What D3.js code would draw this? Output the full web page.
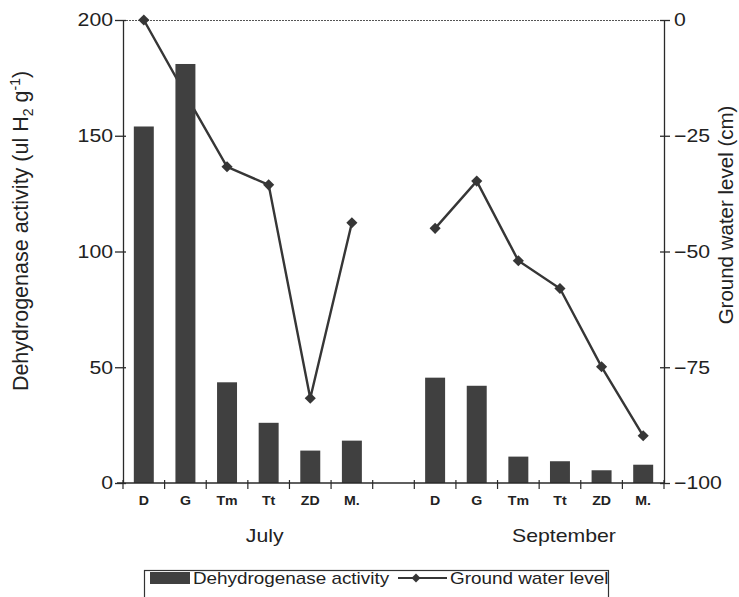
<!DOCTYPE html>
<html>
<head>
<meta charset="utf-8">
<script src="https://cdn.jsdelivr.net/npm/d3@7"></script>
<style>
  body { margin: 0; background: #fff; }
  text { font-family: "Liberation Sans", Arial, sans-serif; fill: #222; }
</style>
</head>
<body>
<div id="chart"></div>
<script>
'use strict';

// data
var sites = ['D', 'G', 'Tm', 'Tt', 'ZD', 'M.'];
var months = ['July', 'September'];
var julyActivity = [154, 181, 43.5, 26, 14, 18.3];
var septActivity = [45.5, 42, 11.4, 9.4, 5.5, 7.9];
var julyWater = [0, -16, -31.7, -35.6, -81.7, -43.8];
var septWater = [-45, -34.8, -52, -58, -74.9, -89.8];
var leftTicks = [0, 50, 100, 150, 200];
var rightTicks = [0, -25, -50, -75, -100];
var seriesNames = ['Dehydrogenase activity', 'Ground water level'];

var W = 739, H = 597;
var margins = {top: 20, bottom: 114, left: 123, right: 75};
var cw = W - margins.left - margins.right;
var ch = H - margins.top - margins.bottom;

var barColor = '#404040';
var lineColor = '#363636';
var axisColor = '#2a2a2a';
var stretchX = 1.18;   // scanned figure text is a bit wide

// 13 slots: 6 July sites, an empty gap, 6 September sites
var slots = [];
sites.forEach(function(s){ slots.push(months[0] + '|' + s); });
slots.push('gap');
sites.forEach(function(s){ slots.push(months[1] + '|' + s); });

var groups = [
    {month: months[0], activity: julyActivity, water: julyWater, shift: -4},
    {month: months[1], activity: septActivity, water: septWater, shift: 4}
];

// widen a text in place: move its x/y into a transform and scale x
function stretch(sel)
{
    sel.each(function(){
        var t = d3.select(this);
        var x = +t.attr('x') || 0, y = +t.attr('y') || 0;
        t.attr('x', 0).attr('y', 0)
            .attr('transform', 'translate(' + x + ',' + y + ') scale(' + stretchX + ',1)');
    });
}

var svg = d3.select('#chart').append('svg')
    .attr('width', W)
    .attr('height', H);

var chart = svg.append('g')
    .attr('transform', 'translate(' + margins.left + ',' + margins.top + ')');

var xScale = d3.scaleBand().domain(slots).range([0, cw])
    .paddingInner(0.52).paddingOuter(0.26);
var yLeft = d3.scaleLinear().domain([0, 200]).range([ch, 0]);
var yRight = d3.scaleLinear().domain([-100, 0]).range([ch, 0]);

function boundary(key)
{
    return xScale(key) - xScale.step() * xScale.paddingInner() / 2;
}

// dotted top frame
chart.append('line')
    .attr('x1', 0).attr('x2', cw)
    .attr('y1', 0.5).attr('y2', 0.5)
    .attr('stroke', '#555')
    .attr('stroke-dasharray', '2,1');

// ground water line (drawn under the bars)
var line = d3.line()
    .x(function(d){ return xScale(d.key) + xScale.bandwidth() / 2; })
    .y(function(d){ return yRight(d.v); });

var marker = d3.symbol(d3.symbolSquare, 62);

groups.forEach(function(g){
    var pts = sites.map(function(s, i){ return {key: g.month + '|' + s, v: g.water[i]}; });
    chart.append('path')
        .datum(pts)
        .attr('d', line)
        .attr('fill', 'none')
        .attr('stroke', lineColor)
        .attr('stroke-width', 2.4);
    chart.selectAll(null)
        .data(pts)
        .enter()
        .append('path')
        .attr('d', marker)
        .attr('transform', function(d){
            return 'translate(' + (xScale(d.key) + xScale.bandwidth() / 2) + ',' + yRight(d.v) + ') rotate(45)';
        })
        .attr('fill', lineColor);
});

// bars
groups.forEach(function(g){
    chart.selectAll(null)
        .data(sites.map(function(s, i){ return {key: g.month + '|' + s, v: g.activity[i]}; }))
        .enter()
        .append('rect')
        .attr('x', function(d){ return xScale(d.key); })
        .attr('y', function(d){ return yLeft(d.v); })
        .attr('width', xScale.bandwidth())
        .attr('height', function(d){ return ch - yLeft(d.v); })
        .attr('fill', barColor);
});

// left axis
var yAxisL = chart.append('g')
    .call(d3.axisLeft(yLeft).tickValues(leftTicks).tickSizeInner(8).tickSizeOuter(0).tickPadding(2));
yAxisL.selectAll('.tick line').attr('x1', 3);

// right axis
var yAxisR = chart.append('g')
    .attr('transform', 'translate(' + cw + ',0)')
    .call(d3.axisRight(yRight).tickValues(rightTicks).tickSizeInner(6).tickSizeOuter(0).tickPadding(4));
yAxisR.selectAll('.tick line').attr('x1', -4);

[yAxisL, yAxisR].forEach(function(a){
    a.selectAll('path, line').attr('stroke', axisColor).attr('stroke-width', 1.3);
    a.selectAll('.tick text').attr('fill', '#222').style('font-size', '18px').call(stretch);
});

// bottom axis: line plus ticks at slot boundaries
var xAxis = chart.append('g').attr('transform', 'translate(0,' + ch + ')');
xAxis.append('line')
    .attr('x1', -6).attr('x2', cw)
    .attr('stroke', axisColor).attr('stroke-width', 1.3);
var bounds = slots.map(boundary).concat([cw]);
xAxis.selectAll('.xt')
    .data(bounds)
    .enter()
    .append('line')
    .attr('x1', function(d){ return d; }).attr('x2', function(d){ return d; })
    .attr('y1', -3).attr('y2', 6)
    .attr('stroke', axisColor).attr('stroke-width', 1.2);

groups.forEach(function(g){
    xAxis.selectAll(null)
        .data(sites)
        .enter()
        .append('text')
        .attr('x', function(s){ return xScale(g.month + '|' + s) + xScale.bandwidth() / 2; })
        .attr('y', 22)
        .attr('text-anchor', 'middle')
        .style('font-size', '12px')
        .style('font-weight', 'bold')
        .text(function(s){ return s; })
        .call(stretch);
    var mid = g.month + '|' + sites[3];
    xAxis.append('text')
        .attr('x', xScale(mid) + xScale.bandwidth() / 2 + g.shift)
        .attr('y', 59)
        .attr('text-anchor', 'middle')
        .style('font-size', '18px')
        .text(g.month)
        .call(stretch);
});

// axis titles
var lt = svg.append('text')
    .attr('transform', 'translate(28,' + (margins.top + 211) + ') rotate(-90)')
    .attr('text-anchor', 'middle')
    .style('font-size', '21.5px');
lt.append('tspan').text('Dehydrogenase activity  (ul H');
lt.append('tspan').attr('dy', 5).style('font-size', '14px').text('2');
lt.append('tspan').attr('dy', -5).text(' g');
lt.append('tspan').attr('dy', -8).style('font-size', '14px').text('-1');
lt.append('tspan').attr('dy', 8).text(')');

svg.append('text')
    .attr('transform', 'translate(733,' + (margins.top + 195) + ') rotate(-90)')
    .attr('text-anchor', 'middle')
    .style('font-size', '20.5px')
    .text('Ground water level (cm)');

// legend
var leg = svg.append('g').attr('transform', 'translate(144,570)');
leg.append('rect')
    .attr('x', 0.5).attr('y', 0.5)
    .attr('width', 464).attr('height', 40)
    .attr('fill', 'none').attr('stroke', '#333').attr('stroke-width', 1.2);
leg.append('rect')
    .attr('x', 6).attr('y', 2).attr('width', 40).attr('height', 12)
    .attr('fill', barColor);
leg.append('text').attr('x', 49).attr('y', 14).style('font-size', '16px').text(seriesNames[0]).call(stretch);
leg.append('line')
    .attr('x1', 254).attr('x2', 303).attr('y1', 8).attr('y2', 8)
    .attr('stroke', lineColor).attr('stroke-width', 2);
leg.append('path')
    .attr('d', d3.symbol(d3.symbolSquare, 40))
    .attr('transform', 'translate(272,8) rotate(45)')
    .attr('fill', lineColor);
leg.append('text').attr('x', 306).attr('y', 14).style('font-size', '16px').text(seriesNames[1]).call(stretch);
</script>
</body>
</html>
